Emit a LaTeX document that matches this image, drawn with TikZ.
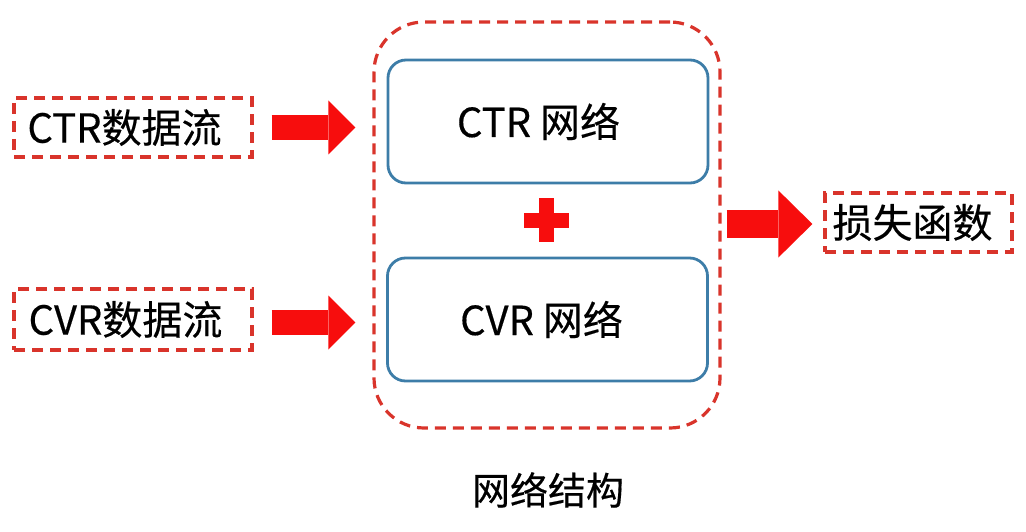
\documentclass[tikz,border=0pt]{standalone}
\usepackage{fontspec}
\setmainfont{Noto Sans CJK SC}[FakeBold=0.4]
\usepackage{tikz}
\usetikzlibrary{arrows.meta,positioning}
\definecolor{dashred}{HTML}{D9342B}
\definecolor{arrowred}{HTML}{F70D0D}
\definecolor{netblue}{HTML}{3D7DA8}
\begin{document}
\begin{tikzpicture}[x=1pt, y=-1pt,
  databox/.style={draw=dashred, line width=3.2pt, dash pattern=on 11pt off 7pt, inner sep=0pt},
  netbox/.style={draw=netblue, line width=2.8pt, rounded corners=18pt, inner sep=0pt, minimum width=320pt, minimum height=123pt},
  bigtext/.style={font=\fontsize{40}{48}\selectfont},
  flowarrow/.style={draw=arrowred, line width=25pt, -{Triangle[length=27pt, width=54pt, line width=0pt]}},
  lossarrow/.style={draw=arrowred, line width=28pt, -{Triangle[length=34pt, width=67pt, line width=0pt]}}]
\useasboundingbox (0,0) rectangle (1026,532);
\node[databox, rounded corners=50pt, minimum width=346pt, minimum height=406pt] (outer) at (547,225) {};
\node[netbox, bigtext] (ctrnet) at (548,121.5) {CTR 网络\hspace*{19pt}};
\node[netbox, bigtext] (cvrnet) at (547.5,319.5) {CVR 网络\hspace*{12pt}};
\node[databox, bigtext, minimum width=238pt, minimum height=59pt] (ctrin) at (133,127.5) {CTR数据流\hspace*{17pt}};
\node[databox, bigtext, minimum width=238pt, minimum height=61pt] (cvrin) at (133,319.5) {CVR数据流\hspace*{15pt}};
\node[databox, bigtext, minimum width=187pt, minimum height=59pt] (loss) at (918.5,222.5) {损失函数\hspace*{12pt}};
\node[font=\fontsize{38}{46}\selectfont] (structlabel) at (548,490) {网络结构};
\fill[arrowred] (524,213) rectangle (569,228);
\fill[arrowred] (539,198) rectangle (554,242);
\draw[flowarrow] ([xshift=18pt]ctrin.east) -- ([xshift=-17pt]outer.west |- ctrin.east);
\draw[flowarrow] ([xshift=18pt, yshift=-3pt]cvrin.east) -- ([xshift=-17pt, yshift=-3pt]outer.west |- cvrin.east);
\draw[lossarrow] ([xshift=5pt, yshift=1pt]outer.east) -- ([xshift=-11pt, yshift=1pt]loss.west |- outer.east);
\end{tikzpicture}
\end{document}
